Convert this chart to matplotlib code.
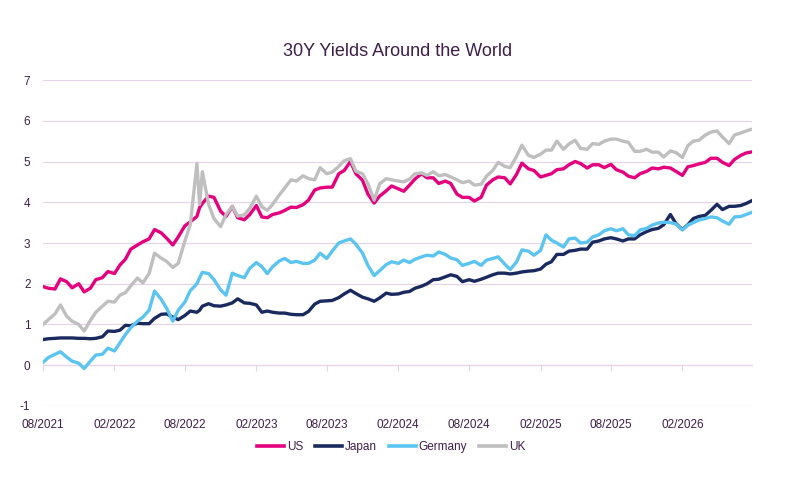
import pandas as pd
import numpy as np
import matplotlib
matplotlib.use('Agg')
import matplotlib.pyplot as plt
import matplotlib.dates as mdates

# ---------- fonts / colours ----------
plt.rcParams['font.family'] = ['Liberation Sans', 'DejaVu Sans']
plt.rcParams['axes.unicode_minus'] = False
TEXT = '#3d1f47'
GRID = '#e6d3e8'

# ---------- data (semi-monthly readings, plus one extra point in Sep 2022) ----------
dates = list(pd.date_range('2021-08-01', '2026-08-01', freq='SMS'))
dates.insert(27, pd.Timestamp('2022-09-08'))

us = [1.93, 1.89, 1.87, 2.12, 2.05, 1.90, 2.00, 1.80, 1.89, 2.10,
      2.15, 2.30, 2.25, 2.46, 2.60, 2.85, 2.95, 3.03, 3.10, 3.33,
      3.25, 3.12, 2.95, 3.15, 3.42,
      3.52, 3.65, 3.87, 3.97, 4.15, 4.12, 3.78, 3.65, 3.90, 3.62,
      3.57, 3.70, 3.92, 3.64, 3.62, 3.70, 3.74, 3.80, 3.88, 3.87,
      3.94, 4.05, 4.30, 4.35, 4.37,
      4.37, 4.70, 4.78, 5.00, 4.70, 4.54, 4.20, 3.98, 4.15, 4.28,
      4.40, 4.33, 4.27, 4.42, 4.57, 4.70, 4.60, 4.60, 4.46, 4.52,
      4.46, 4.20, 4.12, 4.12,
      4.03, 4.12, 4.42, 4.55, 4.62, 4.60, 4.45, 4.68, 4.96, 4.82,
      4.78, 4.62, 4.66, 4.70, 4.80, 4.82, 4.92, 5.00, 4.95, 4.84,
      4.92, 4.92, 4.85, 4.93,
      4.80, 4.74, 4.64, 4.60, 4.70, 4.76, 4.84, 4.82, 4.86, 4.84,
      4.76, 4.66, 4.87, 4.90, 4.94, 4.98, 5.08, 5.08, 4.98, 4.90,
      5.05, 5.15, 5.21, 5.24]

japan = [0.63, 0.65, 0.66, 0.67, 0.67, 0.67, 0.66, 0.66, 0.65, 0.66,
         0.70, 0.84, 0.83, 0.86, 0.98, 0.97, 1.03, 1.02, 1.02, 1.15,
         1.25, 1.26, 1.18, 1.12, 1.22,
         1.33, 1.30, 1.35, 1.45, 1.51, 1.46, 1.45, 1.48, 1.53, 1.63,
         1.53, 1.52, 1.48, 1.30, 1.33, 1.30, 1.28, 1.28, 1.25, 1.24,
         1.24, 1.32, 1.50, 1.57, 1.58,
         1.59, 1.66, 1.75, 1.84, 1.76, 1.67, 1.63, 1.57, 1.65, 1.77,
         1.74, 1.75, 1.79, 1.81, 1.89, 1.94, 2.00, 2.10, 2.11, 2.17,
         2.22, 2.18, 2.05, 2.10,
         2.06, 2.11, 2.16, 2.22, 2.26, 2.26, 2.24, 2.26, 2.29, 2.31,
         2.32, 2.36, 2.48, 2.54, 2.72, 2.72, 2.80, 2.82, 2.85, 2.85,
         3.02, 3.05, 3.10, 3.13,
         3.10, 3.05, 3.10, 3.10, 3.20, 3.28, 3.33, 3.36, 3.45, 3.70,
         3.48, 3.33, 3.45, 3.60, 3.65, 3.68, 3.80, 3.95, 3.82, 3.90,
         3.90, 3.92, 3.97, 4.05]

germany = [0.07, 0.19, 0.27, 0.33, 0.20, 0.10, 0.05, -0.08, 0.10, 0.25,
           0.27, 0.42, 0.35, 0.55, 0.75, 0.92, 1.08, 1.18, 1.35, 1.82,
           1.62, 1.40, 1.08, 1.35, 1.55,
           1.83, 2.00, 2.15, 2.28, 2.25, 2.10, 1.85, 1.72, 2.26, 2.20,
           2.15, 2.38, 2.52, 2.42, 2.25, 2.42, 2.56, 2.62, 2.52, 2.55,
           2.50, 2.50, 2.58, 2.75, 2.62,
           2.80, 3.00, 3.05, 3.10, 2.97, 2.75, 2.45, 2.20, 2.32, 2.47,
           2.54, 2.50, 2.58, 2.52, 2.60, 2.66, 2.70, 2.68, 2.78, 2.72,
           2.63, 2.59, 2.45, 2.50,
           2.55, 2.45, 2.58, 2.62, 2.66, 2.48, 2.35, 2.53, 2.83, 2.80,
           2.70, 2.82, 3.20, 3.07, 3.00, 2.90, 3.10, 3.12, 3.00, 3.02,
           3.15, 3.20, 3.30, 3.35,
           3.30, 3.35, 3.20, 3.18, 3.32, 3.36, 3.44, 3.49, 3.51, 3.50,
           3.47, 3.32, 3.44, 3.50, 3.56, 3.60, 3.64, 3.62, 3.54, 3.46,
           3.64, 3.65, 3.70, 3.76]

uk = [1.00, 1.12, 1.26, 1.48, 1.20, 1.08, 1.00, 0.84, 1.10, 1.30,
      1.45, 1.57, 1.55, 1.72, 1.78, 1.95, 2.14, 2.02, 2.25, 2.75,
      2.63, 2.55, 2.40, 2.50, 3.05,
      3.45, 4.95, 3.95, 4.75, 3.95, 3.60, 3.40, 3.70, 3.90, 3.66,
      3.69, 3.85, 4.15, 3.89, 3.80, 3.95, 4.18, 4.35, 4.55, 4.52,
      4.65, 4.58, 4.55, 4.85, 4.70,
      4.74, 4.88, 5.02, 5.07, 4.76, 4.70, 4.45, 4.05, 4.45, 4.58,
      4.55, 4.52, 4.50, 4.57, 4.70, 4.72, 4.66, 4.75, 4.65, 4.68,
      4.62, 4.55, 4.48, 4.52,
      4.42, 4.44, 4.64, 4.78, 4.98, 4.88, 4.85, 5.12, 5.40, 5.15,
      5.10, 5.18, 5.28, 5.28, 5.50, 5.30, 5.43, 5.52, 5.32, 5.30,
      5.44, 5.42, 5.50, 5.55,
      5.55, 5.50, 5.47, 5.25, 5.25, 5.30, 5.23, 5.23, 5.11, 5.26,
      5.22, 5.10, 5.39, 5.50, 5.52, 5.65, 5.72, 5.75, 5.60, 5.44,
      5.65, 5.70, 5.75, 5.80]

series = [('US', us, '#e5007e'),
          ('Japan', japan, '#1a2a5e'),
          ('Germany', germany, '#5bc4f1'),
          ('UK', uk, '#bfbfbf')]

# ---------- plot ----------
fig = plt.figure(figsize=(8.03, 4.8), dpi=100)
ax = fig.add_axes([0.0535, 0.1542, 0.883, 0.6791])

for name, vals, col in series:
    ax.plot(dates, vals, color=col, lw=2.4, label=name, zorder=3)

ax.set_ylim(-1, 7)
ax.set_yticks(range(-1, 8))
ax.set_xlim(pd.Timestamp('2021-08-01'), pd.Timestamp('2026-07-30'))

ax.xaxis.set_major_locator(mdates.MonthLocator(bymonth=[2, 8], bymonthday=1))
ax.xaxis.set_major_formatter(mdates.DateFormatter('%m/%Y'))

# horizontal axis crosses at zero (excel style), labels stay low
for s in ['top', 'right', 'left']:
    ax.spines[s].set_visible(False)
ax.spines['bottom'].set_position(('data', 0))
ax.spines['bottom'].set_color(GRID)
ax.spines['bottom'].set_linewidth(0.8)

ax.tick_params(axis='x', direction='out', length=4, width=0.8, color=GRID,
               labelsize=8.5, labelcolor=TEXT, pad=35)
ax.tick_params(axis='y', length=0, labelsize=8.5, labelcolor=TEXT, pad=9)

ax.yaxis.grid(True, color=GRID, lw=0.8, zorder=0)
ax.set_axisbelow(True)

ax.set_title('30Y Yields Around the World', fontsize=13, color=TEXT, pad=17)

leg = fig.legend(loc='center', bbox_to_anchor=(0.487, 0.068), ncol=4,
                 frameon=False, fontsize=8.5, handlelength=2.3,
                 handletextpad=0.25, columnspacing=1.0)
for t in leg.get_texts():
    t.set_color(TEXT)
for l in leg.get_lines():
    l.set_linewidth(2.6)

fig.savefig('out.png', dpi=100)
